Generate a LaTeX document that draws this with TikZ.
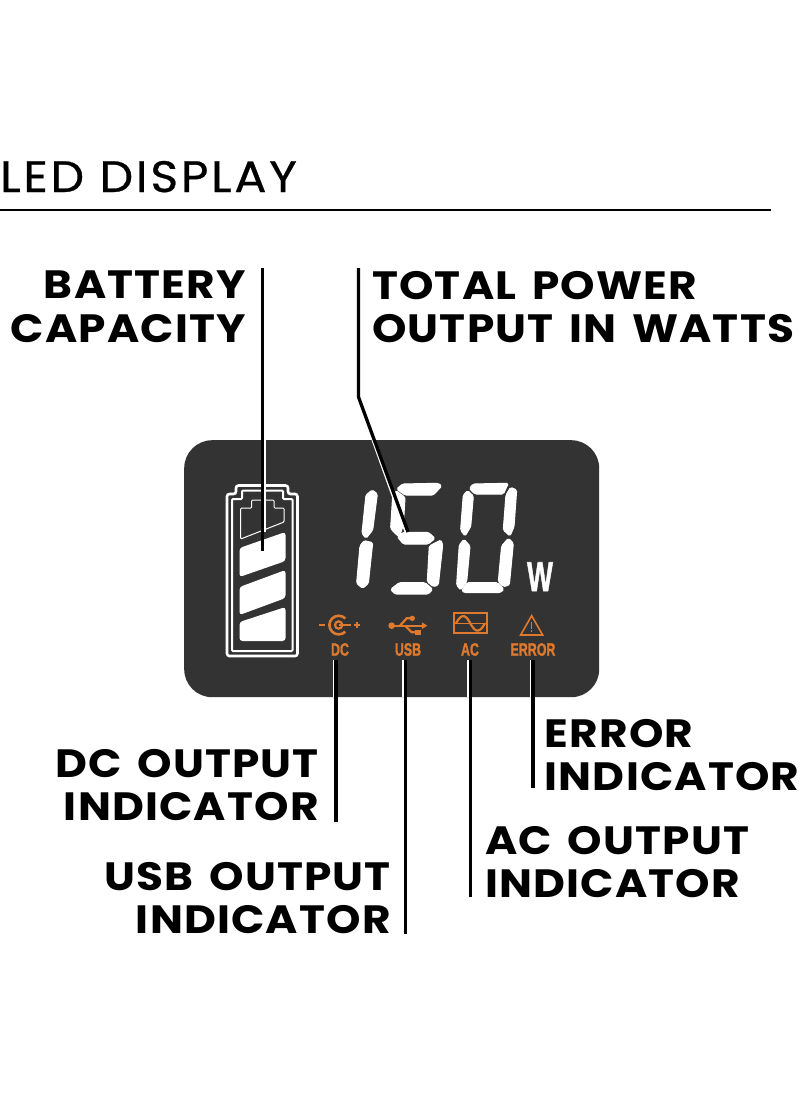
\documentclass[tikz,border=0pt]{standalone}
\usepackage{fontspec}
\setmainfont{Poppins}[BoldFeatures={FakeStretch=1.11,LetterSpace=3,WordSpace=1.5}]
\newfontfamily\titlefont{Poppins}[FakeStretch=1.08,LetterSpace=6.2,FakeBold=0.6]
\newfontfamily\narrowfont{Liberation Sans}[BoldFeatures={FakeBold=1.5}]
\definecolor{panel}{HTML}{333333}
\definecolor{led}{HTML}{DE7A2E}
\tikzset{
  callout/.style={inner sep=0pt,font=\fontsize{39.5}{43.5}\selectfont\bfseries},
  leader/.style={draw=black,line width=3.3pt},
  halo/.style={draw=white,line width=2pt},
  seg/.style={fill=white,draw=white,line width=1.1pt,rounded corners=1.5pt},
  cell/.style={fill=white,draw=none,rounded corners=3pt},
  ledline/.style={draw=led,line width=2.2pt},
  ledtext/.style={inner sep=0pt,text=led,font=\narrowfont\bfseries\fontsize{18}{18}\selectfont},
}
\begin{document}
\begin{tikzpicture}[x=1pt,y=-1pt]
\useasboundingbox (0,0) rectangle (800,1096);
\fill[white] (0,0) rectangle (800,1096);
% title
\node[inner sep=0pt,anchor=base west,font=\titlefont\fontsize{44}{44}\selectfont] (title) at (0,192) {LED DISPLAY};
\coordinate (ruleA) at (0,210); \coordinate (ruleB) at (771,210);
\draw[line width=1.5pt] (ruleA) -- (ruleB);
% panel
\node[fill=panel,draw=none,minimum width=415pt,minimum height=257pt,rounded corners=28pt,inner sep=0pt,anchor=north west] (lcd) at (184,440) {};
% battery
\draw[white,line width=2.6pt,rounded corners=2.5pt] (227,494)--(236,494)--(236,485.5)--(288,485.5)--(288,494)--(297.5,494)--(297.5,656)--(227,656)--cycle;
\draw[white,line width=2pt,rounded corners=1pt] (232,499)--(242,499)--(242,490.5)--(283,490.5)--(283,499)--(292.5,499)--(292.5,651)--(232,651)--cycle;
\draw[white,line width=1pt,rounded corners=1pt] (240.7,539)--(240.7,508)--(251.7,508)--(251.7,500)--(274,500)--(274,508)--(284,508)--(284,522)--cycle;
\fill[cell] (239.5,548)--(285.5,532)--(285.5,561)--(239.5,577)--cycle;
\fill[cell] (239.5,587)--(285.5,570)--(285.5,598)--(239.5,615)--cycle;
\fill[cell] (239.5,622)--(285.5,607)--(285.5,641)--(239.5,641)--cycle;
% digits
\begin{scope}[shift={(340,470)},x=.3333pt,y=-.3333pt]
 % 1
 \fill[seg] (97,60)--(112,72)--(98,180)--(78,205)--(66,190)--(78,75)--cycle;
 \fill[seg] (72,212)--(98,218)--(85,340)--(68,355)--(50,340)--(60,228)--cycle;
 % 5
 \fill[seg] (188,42)--(295,40)--(305,48)--(280,75)--(195,75)--(170,57)--cycle;
 \fill[seg] (168,62)--(195,82)--(190,165)--(178,200)--(165,190)--(152,175)--(158,80)--cycle;
 \fill[seg] (172,200)--(190,187)--(265,187)--(285,205)--(265,222)--(190,222)--cycle;
 \fill[seg] (303,210)--(308,225)--(295,345)--(280,350)--(262,335)--(268,228)--cycle;
 \fill[seg] (152,358)--(178,338)--(255,338)--(278,358)--(265,372)--(165,372)--cycle;
 % 0
 \fill[seg] (400,42)--(505,40)--(490,72)--(405,72)--(388,55)--cycle;
 \fill[seg] (383,62)--(400,78)--(392,170)--(375,198)--(362,180)--(370,75)--cycle;
 \fill[seg] (512,52)--(530,60)--(522,170)--(510,198)--(490,180)--(498,75)--cycle;
 \fill[seg] (372,208)--(390,228)--(380,335)--(362,360)--(350,345)--(358,225)--cycle;
 \fill[seg] (505,205)--(520,220)--(508,345)--(490,350)--(475,335)--(485,228)--cycle;
 \fill[seg] (365,362)--(382,338)--(472,338)--(492,358)--(480,368)--(375,368)--cycle;
\end{scope}
\node[inner sep=0pt,text=white,font=\narrowfont\bfseries\fontsize{44}{44}\selectfont,anchor=base] (unit) at (540,591) {\scalebox{.62}[.95]{W}};
% icons
\begin{scope}[shift={(310,605)},x=.3333pt,y=-.3333pt]
 % DC
 \draw[ledline,line width=2.4pt] (27,60)--(45,60);
 \draw[ledline,line width=2.6pt] (106,80) arc[start angle=45,end angle=315,radius=28];
 \draw[ledline] (86,60) circle[radius=11];
 \draw[ledline] (86,60)--(122,60);
 \draw[ledline,line width=1.8pt] (131,60)--(149,60) (140,51)--(140,69);
 % USB
 \fill[led] (245,62) circle[radius=10];
 \draw[ledline] (245,62)--(340,62);
 \fill[led] (352,62)--(336,52)--(336,72)--cycle;
 \draw[ledline] (270,62)--(290,40)--(305,40);
 \fill[led] (307,40) circle[radius=8];
 \draw[ledline] (285,62)--(305,82)--(320,82);
 \fill[led] (316,74) rectangle (332,90);
 % AC
 \draw[ledline] (432,25) rectangle (530,85);
 \draw[led,line width=1pt] (432,55)--(530,55);
 \draw[ledline] (438,55) .. controls (458,18) and (470,35) .. (481,55) .. controls (492,75) and (505,92) .. (525,55);
 % ERROR
 \draw[led,line width=1.6pt,line join=miter] (665,32)--(632,90)--(698,90)--cycle;
 \draw[led,line width=1pt] (665,52)--(665,72) (665,76)--(665,81);
\end{scope}
\node[ledtext] (dc) at (340,649.5) {\scalebox{.69}[1]{DC}};
\node[ledtext] (usb) at (408,649.5) {\scalebox{.69}[1]{USB}};
\node[ledtext] (ac) at (470,649.5) {\scalebox{.69}[1]{AC}};
\node[ledtext] (err) at (533,649.5) {\scalebox{.69}[1]{ERROR}};
% labels
\node[callout,align=right,anchor=north east] (battery) at (246,271) {BATTERY\\CAPACITY};
\node[callout,align=left,anchor=north west] (total) at (372,271) {TOTAL POWER\\OUTPUT IN WATTS};
\node[callout,align=right,anchor=north east] (dclabel) at (319,749) {DC OUTPUT\\INDICATOR};
\node[callout,align=right,anchor=north east] (usblabel) at (391,862) {USB OUTPUT\\INDICATOR};
\node[callout,align=left,anchor=north west] (aclabel) at (485,826) {AC OUTPUT\\INDICATOR};
\node[callout,align=left,anchor=north west] (errlabel) at (544.5,719) {ERROR\\INDICATOR};
% leaders
\coordinate (batTop) at (262.7,268); \coordinate (batEnd) at (262.7,551);
\draw[draw=white,line width=1.5pt] (265.2,440)--(265.2,532);
\draw[leader] (batTop)--(batEnd);
\coordinate (totTop) at (358.5,268); \coordinate (totBend) at (358.5,397); \coordinate (totEnd) at (408,532);
\draw[halo] (372.5,440)--(405.5,532);
\draw[leader] (totTop)--(totBend)--(totEnd);
\foreach \n/\x/\yend in {dcA/336/822,usbA/405.5/934,acA/470.5/897,errA/533/788}{
  \coordinate (\n s) at (\x,660); \coordinate (\n e) at (\x,\yend);
  \draw[halo] ([xshift=-2.5pt]\n s)--([xshift=-2.5pt]\n s |- lcd.south);
  \draw[leader] (\n s)--(\n e);
}
\end{tikzpicture}
\end{document}
